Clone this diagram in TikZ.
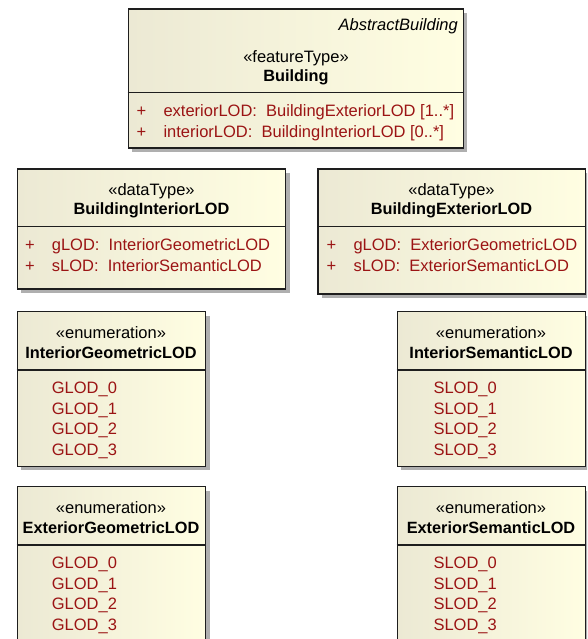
\documentclass[tikz,border=0pt]{standalone}
\usepackage{fontspec}
\setmainfont{Liberation Sans}
\usetikzlibrary{shadows}
\definecolor{fillL}{RGB}{236,233,212}
\definecolor{fillR}{RGB}{255,254,226}
\definecolor{attr}{RGB}{155,20,20}
\definecolor{edge}{RGB}{30,30,30}
\definecolor{shade}{RGB}{175,175,175}
\tikzset{
  umlbox/.style={draw=edge, line width=1.3pt, left color=fillL, right color=fillR,
    anchor=north west, inner sep=0pt,
    drop shadow={shadow xshift=4pt, shadow yshift=-4pt, fill=shade, opacity=1}},
  divider/.style={draw=edge, line width=1.1pt},
  txt/.style={inner sep=0pt, font=\fontsize{16.5}{19}\selectfont},
  stereo/.style={txt, anchor=base},
  cname/.style={txt, anchor=base, font=\fontsize{16.3}{19}\selectfont\bfseries},
  attrtxt/.style={txt, anchor=base west, text=attr},
}
\begin{document}
\begin{tikzpicture}[x=1pt,y=-1pt]
\useasboundingbox (0,0) rectangle (587,639);
\clip (0,0) rectangle (587,639);

% Building
\node[umlbox, minimum width=335pt, minimum height=139pt] (bld) at (127.5,8.5) {};
\draw[divider] (127.5,92.7) -- (462.5,92.7);
\node[txt, anchor=base east, font=\fontsize{16.5}{19}\selectfont\itshape] (bldabs) at (458,30.5) {AbstractBuilding};
\node[stereo] (bldst) at (296,62.5) {«featureType»};
\node[cname] (bldnm) at (296,81.5) {Building};
\node[attrtxt] (bldp1) at (136.5,116.5) {+};
\node[attrtxt] (bldp2) at (136.5,137.5) {+};
\node[attrtxt] (blda1) at (163.3,116.5) {exteriorLOD:\ \ BuildingExteriorLOD [1..*]};
\node[attrtxt] (blda2) at (163.3,137.5) {interiorLOD:\ \ BuildingInteriorLOD [0..*]};

% BuildingInteriorLOD
\node[umlbox, minimum width=268.3pt, minimum height=120pt] (bil) at (16.7,168.3) {};
\draw[divider] (16.7,226.7) -- (285,226.7);
\node[stereo] (bilst) at (151.5,195.5) {«dataType»};
\node[cname] (bilnm) at (151.5,214.8) {BuildingInteriorLOD};
\node[attrtxt] (bilp1) at (25,250.5) {+};
\node[attrtxt] (bilp2) at (25,271.5) {+};
\node[attrtxt] (bila1) at (51.7,250.5) {gLOD:\ \ InteriorGeometricLOD};
\node[attrtxt] (bila2) at (51.7,271.5) {sLOD:\ \ InteriorSemanticLOD};

% BuildingExteriorLOD
\node[umlbox, minimum width=267.7pt, minimum height=125pt] (bel) at (317.3,168.3) {};
\draw[divider] (317.3,226.7) -- (585,226.7);
\node[stereo] (belst) at (451.5,195.5) {«dataType»};
\node[cname] (belnm) at (451.5,214.8) {BuildingExteriorLOD};
\node[attrtxt] (belp1) at (326.5,250.5) {+};
\node[attrtxt] (belp2) at (326.5,271.5) {+};
\node[attrtxt] (bela1) at (353.3,250.5) {gLOD:\ \ ExteriorGeometricLOD};
\node[attrtxt] (bela2) at (353.3,271.5) {sLOD:\ \ ExteriorSemanticLOD};

% InteriorGeometricLOD
\node[umlbox, minimum width=188.3pt, minimum height=154.7pt] (igl) at (16.7,311) {};
\draw[divider] (16.7,370) -- (205,370);
\node[stereo] (iglst) at (111,338.8) {«enumeration»};
\node[cname] (iglnm) at (111,358.8) {InteriorGeometricLOD};
\node[attrtxt] (igl0) at (51.7,393.3) {GLOD\_0};
\node[attrtxt] (igl1) at (51.7,414) {GLOD\_1};
\node[attrtxt] (igl2) at (51.7,434.7) {GLOD\_2};
\node[attrtxt] (igl3) at (51.7,455.4) {GLOD\_3};

% InteriorSemanticLOD
\node[umlbox, minimum width=188.3pt, minimum height=154.7pt] (isl) at (396.7,311) {};
\draw[divider] (396.7,370) -- (585,370);
\node[stereo] (islst) at (491,338.8) {«enumeration»};
\node[cname] (islnm) at (491,358.8) {InteriorSemanticLOD};
\node[attrtxt] (isl0) at (433.3,393.3) {SLOD\_0};
\node[attrtxt] (isl1) at (433.3,414) {SLOD\_1};
\node[attrtxt] (isl2) at (433.3,434.7) {SLOD\_2};
\node[attrtxt] (isl3) at (433.3,455.4) {SLOD\_3};

% ExteriorGeometricLOD
\node[umlbox, minimum width=188.3pt, minimum height=200pt] (egl) at (16.7,486) {};
\draw[divider] (16.7,545) -- (205,545);
\node[stereo] (eglst) at (111,513.8) {«enumeration»};
\node[cname] (eglnm) at (111,533.8) {ExteriorGeometricLOD};
\node[attrtxt] (egl0) at (51.7,568.3) {GLOD\_0};
\node[attrtxt] (egl1) at (51.7,589) {GLOD\_1};
\node[attrtxt] (egl2) at (51.7,609.7) {GLOD\_2};
\node[attrtxt] (egl3) at (51.7,630.4) {GLOD\_3};

% ExteriorSemanticLOD
\node[umlbox, minimum width=188.3pt, minimum height=200pt] (esl) at (396.7,486) {};
\draw[divider] (396.7,545) -- (585,545);
\node[stereo] (eslst) at (491,513.8) {«enumeration»};
\node[cname] (eslnm) at (491,533.8) {ExteriorSemanticLOD};
\node[attrtxt] (esl0) at (433.3,568.3) {SLOD\_0};
\node[attrtxt] (esl1) at (433.3,589) {SLOD\_1};
\node[attrtxt] (esl2) at (433.3,609.7) {SLOD\_2};
\node[attrtxt] (esl3) at (433.3,630.4) {SLOD\_3};
\end{tikzpicture}
\end{document}
